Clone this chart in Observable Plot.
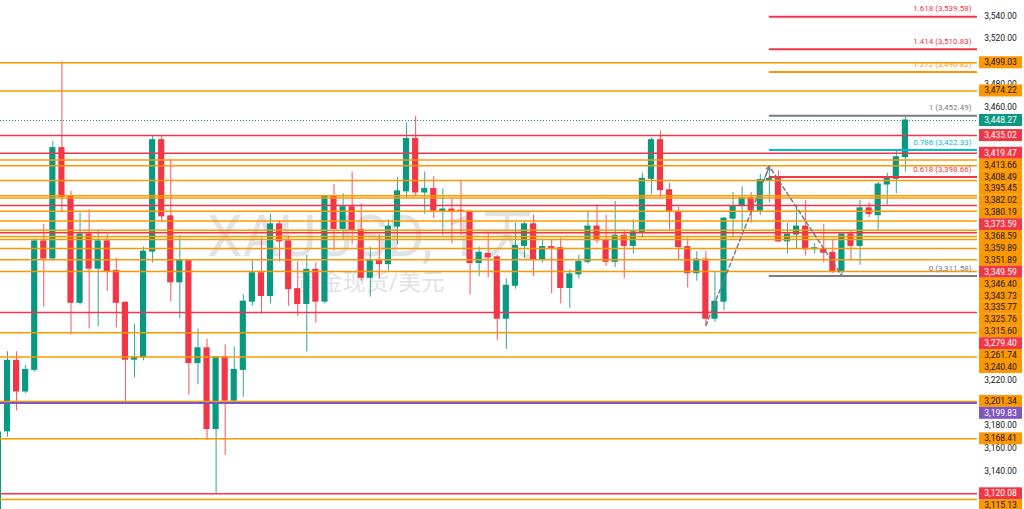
<!DOCTYPE html>
<html><head><meta charset="utf-8">
<script src="https://cdn.jsdelivr.net/npm/d3@7"></script>
<script src="https://cdn.jsdelivr.net/npm/@observablehq/plot@0.6"></script>
<style>
html,body{margin:0;padding:0;background:#fff;overflow:hidden}
#chart svg{display:block}
</style></head><body><div id="chart"></div>
<script>
// ---- data (XAUUSD daily) ----
const dates = ["2025-04-10","2025-04-11","2025-04-14","2025-04-15","2025-04-16","2025-04-17","2025-04-21","2025-04-22","2025-04-23","2025-04-24","2025-04-25",
"2025-04-28","2025-04-29","2025-04-30","2025-05-01","2025-05-02","2025-05-05","2025-05-06","2025-05-07","2025-05-08","2025-05-09",
"2025-05-12","2025-05-13","2025-05-14","2025-05-15","2025-05-16","2025-05-19","2025-05-20","2025-05-21","2025-05-22","2025-05-23",
"2025-05-26","2025-05-27","2025-05-28","2025-05-29","2025-05-30","2025-06-02","2025-06-03","2025-06-04","2025-06-05","2025-06-06",
"2025-06-09","2025-06-10","2025-06-11","2025-06-12","2025-06-13","2025-06-16","2025-06-17","2025-06-18","2025-06-19","2025-06-20",
"2025-06-23","2025-06-24","2025-06-25","2025-06-26","2025-06-27","2025-06-30","2025-07-01","2025-07-02","2025-07-03","2025-07-04",
"2025-07-07","2025-07-08","2025-07-09","2025-07-10","2025-07-11","2025-07-14","2025-07-15","2025-07-16","2025-07-17","2025-07-18",
"2025-07-21","2025-07-22","2025-07-23","2025-07-24","2025-07-25","2025-07-28","2025-07-29","2025-07-30","2025-07-31","2025-08-01",
"2025-08-04","2025-08-05","2025-08-06","2025-08-07","2025-08-08","2025-08-11","2025-08-12","2025-08-13","2025-08-14","2025-08-15",
"2025-08-18","2025-08-19","2025-08-20","2025-08-21","2025-08-22","2025-08-25","2025-08-26","2025-08-27","2025-08-28","2025-08-29"];
const open = [3080,3175,3237,3210,3229,3342,3327,3424,3381,3288,3348,
3318,3342,3316,3288,3238,3240,3333,3431,3364,3306,
3325,3235,3248,3177,3240,3202,3229,3289,3314,3294,
3357,3342,3300,3287,3317,3289,3381,3353,3372,3352,
3310,3325,3322,3355,3386,3432,3385,3388,3368,3370,
3369,3368,3323,3331,3328,3274,3303,3338,3357,3326,
3337,3336,3301,3313,3324,3355,3343,3324,3347,3338,
3350,3397,3431,3387,3368,3337,3314,3326,3274,3289,
3362,3373,3380,3369,3395.5,3397,3342,3348,3355,3335,
3335,3332,3315,3348,3338,3371,3365,3392,3397,3416];
const high = [3178,3245,3245,3233,3344,3357,3430,3500,3386,3367,3370,
3352,3348,3327,3289,3269,3337,3435,3435,3414,3347,
3326,3265,3256,3241,3251,3249,3295,3325,3345,3366,
3360,3347,3324,3330,3323,3382,3392,3384,3403,3375,
3337,3348,3361,3398,3446,3452,3403,3399,3388,3379,
3395,3369,3337,3348,3330,3309,3358,3359,3365,3344,
3343,3345,3317,3330,3368,3374,3365,3377,3352,3361,
3402,3433,3439,3393,3372,3345,3333,3333,3315,3363,
3385,3390,3385,3401,3408,3404,3358,3374,3378,3340,
3357,3344,3349,3351,3378,3376,3394,3402,3422,3452.5];
const low = [3073,3170,3193,3208,3227,3284,3325,3367,3260,3286,3265,
3267,3298,3266,3201,3222,3237,3323,3359,3289,3274,
3207,3216,3167,3120,3154,3200,3205,3285,3278,3287,
3324,3285,3276,3245,3270,3287,3333,3343,3339,3307,
3293,3309,3316,3339,3380,3382,3366,3362,3347,3340,
3347,3295,3311,3310,3255,3247,3300,3327,3311,3323,
3296,3287,3283,3309,3322,3340,3320,3319,3309,3331,
3345,3383,3381,3352,3325,3301,3307,3268,3271,3281,
3345,3351,3358,3365,3376,3341,3331,3335,3329,3331,
3323,3314,3311.6,3325,3321,3363,3351,3374,3384,3403];
const close = [3174,3237,3210,3229,3342,3327,3424,3381,3288,3348,3318,
3342,3316,3288,3238,3240,3333,3431,3364,3306,3325,
3235,3248,3177,3240,3202,3229,3289,3314,3294,3357,
3342,3300,3287,3317,3289,3381,3353,3372,3352,3310,
3325,3322,3355,3386,3432,3385,3388,3369,3370,3368,
3368,3323,3332,3328,3274,3303,3338,3357,3326,3337,
3336,3301,3313,3324,3355,3343,3324,3347,3338,3350,
3397,3431,3387,3368,3337,3314,3326,3274,3289,3362,
3373,3380,3369,3396,3397,3342,3348,3355,3335,3336,
3332,3315,3348,3338,3371,3366,3392,3397,3416,3448.27];

const orangeLevels = [3499.03,3474.22,3413.66,3408.49,3395.45,3382.02,3380.19,3368.59,3359.89,3351.89,3346.40,3343.73,3335.77,3325.76,3315.60,3261.74,3240.40,3201.34,3168.41,3115.13];
const redLevels = [3435.02,3419.47,3373.59,3349.59,3279.40,3120.08];
const purpleLevels = [3199.83];
const lastPrice = 3448.27;

const fibRatios = ["1.618","1.414","1.272","1","0.786","0.618","0"];
const fibPrices = [3539.58,3510.83,3490.82,3452.49,3422.33,3398.66,3311.58];
const fibStartDate = "2025-08-08";

const zigzagDates = ["2025-07-30","2025-08-08","2025-08-20"];
const zigzagPrices = [3268,3408,3311.58];

const axisTicks = d3.range(3140, 3541, 20);

const watermarkTitle = "XAUUSD, 1天";
const watermarkSub = "黄金现货/美元";

// ---- styles ----
const G = "#089981", R = "#f23645", O = "#ff9800", P = "#7e57c2", GRAY = "#787b86", CYAN = "#00bcd4";
const FONT = "Roboto, 'Noto Sans CJK SC', sans-serif";
const fmt = d3.format(",.2f");

const idx = new Map(dates.map((d, i) => [d, i]));
const candles = dates.map((d, i) => ({i, o: open[i], h: high[i], l: low[i], c: close[i], up: close[i] >= open[i]}));
const fibColor = {"1.618": R, "1.414": R, "1.272": O, "1": GRAY, "0.786": CYAN, "0.618": R, "0": GRAY};
const X_DOMAIN = [0.228, 107.95];
const fibStart = idx.get(fibStartDate);
const fib = fibRatios.map((r, k) => ({r, p: fibPrices[k], x1: fibStart, x2: X_DOMAIN[1]}));
const zig = zigzagDates.map((d, k) => ({x: idx.get(d), y: zigzagPrices[k]}));
const arrowSeg = [{x1: zig[0].x + 0.93 * (zig[1].x - zig[0].x), y1: zig[0].y + 0.93 * (zig[1].y - zig[0].y), x2: zig[1].x, y2: zig[1].y}];

const chart = Plot.plot({
  width: 1024, height: 509,
  marginLeft: 0, marginRight: 47, marginTop: 0, marginBottom: 0,
  x: {domain: X_DOMAIN, axis: null},
  y: {domain: [3106.3, 3553.77], axis: null},
  style: {background: "#ffffff", overflow: "visible"},
  marks: [
    Plot.text([watermarkTitle], {frameAnchor: "top-left", dx: 371, dy: 237, text: d => d, fontSize: 57, fontFamily: FONT, fill: "#e1e2e6", textAnchor: "middle", lineAnchor: "middle"}),
    Plot.text([watermarkSub], {frameAnchor: "top-left", dx: 370, dy: 282, text: d => d, fontSize: 23, fontFamily: FONT, fill: "#e1e2e6", textAnchor: "middle", lineAnchor: "middle"}),
    Plot.ruleX(candles, {x: "i", y1: "l", y2: "h", stroke: d => d.up ? G : R, strokeWidth: 1, strokeOpacity: 0.85}),
    Plot.rect(candles, {x1: d => d.i - 0.34, x2: d => d.i + 0.34, y1: "o", y2: "c", fill: d => d.up ? G : R, insetTop: -0.5, insetBottom: -0.5}),
    Plot.ruleY(orangeLevels, {stroke: O, strokeWidth: 1.5}),
    Plot.ruleY(redLevels, {stroke: R, strokeWidth: 1.5}),
    Plot.ruleY(purpleLevels, {stroke: P, strokeWidth: 2}),
    Plot.ruleY([lastPrice], {stroke: G, strokeWidth: 1, strokeDasharray: "1,2"}),
    Plot.ruleY(fib, {y: "p", x1: "x1", x2: "x2", stroke: d => fibColor[d.r], strokeWidth: 2}),
    Plot.text(fib, {x: "x2", y: "p", text: d => `${d.r} (${fmt(d.p)})`, textAnchor: "end", dx: -6, dy: -8, fill: d => fibColor[d.r], fontSize: 8, fontFamily: FONT}),
    Plot.line(zig, {x: "x", y: "y", stroke: GRAY, strokeWidth: 1.5, strokeDasharray: "4,3"}),
    Plot.arrow(arrowSeg, {x1: "x1", y1: "y1", x2: "x2", y2: "y2", stroke: GRAY, strokeWidth: 1.2, headLength: 6})
  ]
});

// ---- right price axis with stacked level labels, placed through the plot's y scale ----
const ys = chart.scale("y");
const svg = d3.select(chart);
const W = 1024, MR = 47;
const bx = W - MR + 2, bw = 43, xc = bx + bw / 2;

const labels = [
  ...orangeLevels.map(p => ({p, bg: O, fg: "#131722"})),
  ...redLevels.map(p => ({p, bg: R, fg: "#ffffff"})),
  ...purpleLevels.map(p => ({p, bg: P, fg: "#ffffff"})),
  {p: lastPrice, bg: G, fg: "#ffffff"}
].sort((a, b) => b.p - a.p);
const BH = 12, GAP = 11.9;
let prev = -Infinity;
labels.forEach(l => { l.y = Math.max(ys.apply(l.p), prev + GAP); prev = l.y; });

// tick labels that are covered by a level label are not drawn (TradingView hides them)
const ax = svg.append("g").attr("font-family", FONT).attr("font-size", 8.5);
axisTicks.filter(t => labels.every(l => Math.abs(ys.apply(t) - l.y) >= 6.5))
  .forEach(t => ax.append("text").attr("x", xc).attr("y", ys.apply(t)).attr("dy", "0.35em")
    .attr("text-anchor", "middle").attr("fill", "#131722").text(fmt(t)));

const lg = svg.append("g").attr("font-family", FONT).attr("font-size", 8.5);
labels.forEach(l => {
  lg.append("rect").attr("x", bx).attr("y", l.y - BH / 2).attr("width", bw).attr("height", BH).attr("fill", l.bg);
  lg.append("text").attr("x", xc).attr("y", l.y).attr("dy", "0.35em").attr("text-anchor", "middle").attr("fill", l.fg).text(fmt(l.p));
});

document.getElementById("chart").append(chart);
</script></body></html>
